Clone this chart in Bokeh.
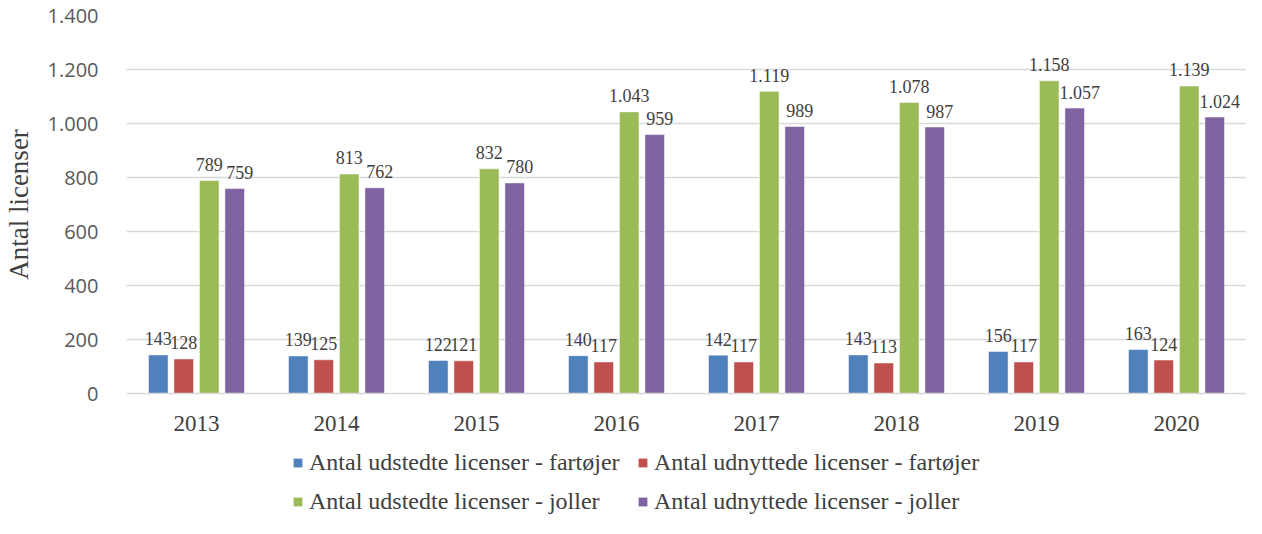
from bokeh.plotting import figure
from bokeh.layouts import column
from bokeh.models import ColumnDataSource, FactorRange, Range1d, FixedTicker, Legend, LegendItem
from bokeh.transform import dodge
from bokeh.core.properties import value
from bokeh.embed import file_html
from bokeh.resources import INLINE

years = ["2013", "2014", "2015", "2016", "2017", "2018", "2019", "2020"]
udstedte_fartojer = [143, 139, 122, 140, 142, 143, 156, 163]
udnyttede_fartojer = [128, 125, 121, 117, 117, 113, 117, 124]
udstedte_joller = [789, 813, 832, 1043, 1119, 1078, 1158, 1139]
udnyttede_joller = [759, 762, 780, 959, 989, 987, 1057, 1024]
series_names = [
    "Antal udstedte licenser - fartøjer",
    "Antal udnyttede licenser - fartøjer",
    "Antal udstedte licenser - joller",
    "Antal udnyttede licenser - joller",
]
y_ticks = [0, 200, 400, 600, 800, 1000, 1200, 1400]
y_label = "Antal licenser"

colors = ["#4F81BD", "#C0504D", "#9BBB59", "#8064A2"]
offsets = [-0.273, -0.091, 0.091, 0.273]
label_dx = [0, 0, 0, 5]
series = [udstedte_fartojer, udnyttede_fartojer, udstedte_joller, udnyttede_joller]


def fmt(v):
    return f"{v:,}".replace(",", ".")


SERIF = "Liberation Serif"
TXT = "#404040"
W = 1246

p = figure(
    x_range=FactorRange(*years),
    y_range=Range1d(0, 1400),
    width=W,
    height=436,
    output_backend="svg",
    toolbar_location=None,
    min_border_left=112,
    min_border_right=0,
    min_border_top=15,
    min_border_bottom=43,
)
p.outline_line_color = None
p.background_fill_color = "white"
p.border_fill_color = "white"

sources = []
for name, vals, col, off, dx in zip(series_names, series, colors, offsets, label_dx):
    src = ColumnDataSource(dict(year=years, val=vals, lbl=[fmt(v) for v in vals]))
    sources.append(src)
    p.vbar(x=dodge("year", off, range=p.x_range), top="val", width=0.14,
           source=src, fill_color=col, line_color="white", line_alpha=0.5, line_width=1)
    p.text(x=dodge("year", off, range=p.x_range), y="val", text="lbl", source=src,
           text_align="center", text_baseline="alphabetic", y_offset=-16, x_offset=dx,
           text_font=value(SERIF), text_font_size="18px", text_color=TXT)

# axes
p.yaxis.ticker = FixedTicker(ticks=y_ticks)
p.yaxis.major_label_overrides = {t: fmt(t) for t in y_ticks}
p.yaxis.axis_line_color = None
p.yaxis.major_tick_line_color = None
p.yaxis.minor_tick_line_color = None
p.yaxis.major_label_standoff = 22
p.yaxis.major_label_text_font = "Open Sans"
p.yaxis.major_label_text_font_size = "20px"
p.yaxis.major_label_text_color = "#595959"
p.yaxis.axis_label = y_label
p.yaxis.axis_label_text_font = SERIF
p.yaxis.axis_label_text_font_size = "27px"
p.yaxis.axis_label_text_font_style = "normal"
p.yaxis.axis_label_text_color = TXT
p.yaxis.axis_label_standoff = 11

p.xaxis.axis_line_color = "#d9d9d9"
p.xaxis.axis_line_width = 1.5
p.xaxis.major_tick_line_color = None
p.xaxis.minor_tick_line_color = None
p.xaxis.major_label_standoff = 16
p.xaxis.major_label_text_font = SERIF
p.xaxis.major_label_text_font_size = "23px"
p.xaxis.major_label_text_color = TXT

p.xgrid.grid_line_color = None
p.ygrid.grid_line_color = "#d9d9d9"
p.ygrid.grid_line_width = 1.5

# legend figure (its zero-width bars lie outside the visible y range; only the legend shows)
lf = figure(width=W, height=82, output_backend="svg", toolbar_location=None,
            x_range=FactorRange(*years), y_range=Range1d(5000, 6000),
            x_axis_location=None, y_axis_location=None,
            min_border_left=0, min_border_right=0, min_border_top=0, min_border_bottom=0)
lf.outline_line_color = None
lf.background_fill_color = "white"
lf.border_fill_color = "white"
lf.xgrid.grid_line_color = None
lf.ygrid.grid_line_color = None
items = []
for name, col, src in zip(series_names, colors, sources):
    r = lf.vbar(x="year", top="val", width=0, source=src, fill_color=col, line_color=None)
    items.append(LegendItem(label=name, renderers=[r]))

legend = Legend(items=items, orientation="horizontal", ncols=2, location=(166, 3),
                glyph_width=11, glyph_height=11, label_standoff=6,
                spacing=12, padding=0, margin=0, label_width=316,
                border_line_color=None, background_fill_alpha=0,
                label_text_font=SERIF, label_text_font_size="24px",
                label_text_color=TXT)
lf.add_layout(legend, "center")

layout = column(p, lf, spacing=0)
open("out.html", "w").write(file_html(layout, INLINE))
